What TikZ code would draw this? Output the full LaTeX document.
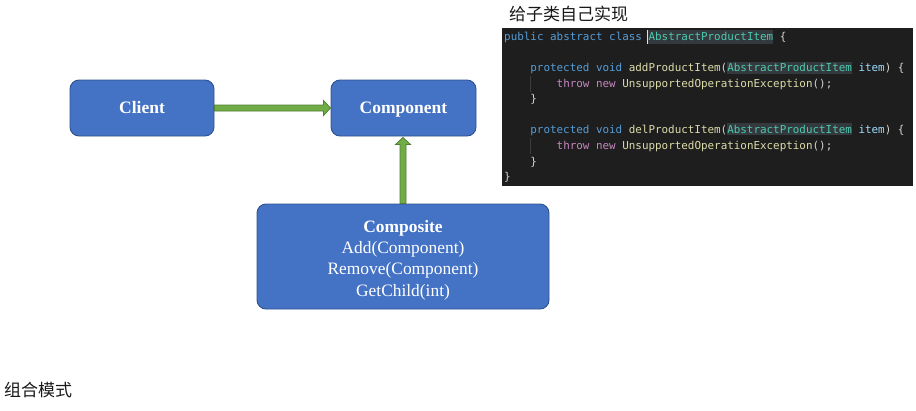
\documentclass[tikz,border=0pt]{standalone}
\usepackage{fontspec}
\setmainfont{Liberation Serif}
\newfontfamily\cjkfont{Noto Sans CJK SC}
\newfontfamily\codefont{DejaVu Sans Mono}
\usetikzlibrary{calc}
\definecolor{boxfill}{HTML}{4472C4}
\definecolor{boxline}{HTML}{2F528F}
\definecolor{arrfill}{HTML}{70AD47}
\definecolor{arrline}{HTML}{507E32}
\definecolor{codebg}{HTML}{1E1E1E}
\definecolor{codehl}{HTML}{33393C}
\definecolor{ckw}{HTML}{569CD6}
\definecolor{cty}{HTML}{4EC9B0}
\definecolor{cfn}{HTML}{DCDCAA}
\definecolor{cvar}{HTML}{9CDCFE}
\definecolor{cctl}{HTML}{C586C0}
\definecolor{cpunc}{HTML}{D4D4D4}
\definecolor{cguide}{HTML}{3C3C3C}
\tikzset{
  umlbox/.style={draw=boxline, line width=0.9pt, fill=boxfill, rounded corners=9pt,
    text=white, font=\fontsize{17.5}{21}\selectfont\bfseries, inner sep=0pt},
  simplebox/.style={umlbox, text height=14pt, text depth=3pt},
  blockarrow/.style={draw=arrline, line width=0.7pt, fill=arrfill, line join=miter},
  codeline/.style={anchor=base west, inner sep=0pt, text=cpunc,
    font=\codefont\fontsize{10.9}{13}\selectfont},
  cjklabel/.style={anchor=west, inner sep=0pt, text=black!90,
    font=\cjkfont\fontsize{17}{20}\selectfont}
}
\begin{document}
\begin{tikzpicture}[x=1pt,y=-1pt]
\useasboundingbox (0,0) rectangle (916,410);
% boxes
\node[simplebox, minimum width=144pt, minimum height=56pt] (client) at (142,108) {Client};
\node[simplebox, minimum width=145pt, minimum height=56pt] (component) at (403.5,108) {Component};
\node[umlbox, minimum width=292pt, minimum height=105pt,
  font=\fontsize{17.4}{21.3}\selectfont] (composite) at (403,256.5)
  {\raisebox{-3.5pt}[\height][\depth]{\begin{tabular}{@{}c@{}}\textbf{Composite}\\Add(Component)\\Remove(Component)\\GetChild(int)\end{tabular}}};
% arrows
\draw[blockarrow] ($(client.east)+(0,-3)$) -- ($(component.west)+(-7,-3)$)
  -- ($(component.west)+(-7,-7.5)$) -- (component.west)
  -- ($(component.west)+(-7,7.5)$) -- ($(component.west)+(-7,3)$)
  -- ($(client.east)+(0,3)$) -- cycle;
\coordinate (vtip) at (composite.north |- component.south);
\draw[blockarrow] ($(composite.north)+(-3,0)$) -- ($(vtip)+(-3,8)$)
  -- ($(vtip)+(-7.5,8)$) -- ($(vtip)+(0,1)$) -- ($(vtip)+(7.5,8)$) -- ($(vtip)+(3,8)$)
  -- ($(composite.north)+(3,0)$) -- cycle;
% title labels
\node[cjklabel] (title) at (509,14) {给子类自己实现};
\node[cjklabel] (pattern) at (4,390) {组合模式};
% code panel
\fill[codebg] (502,28) rectangle (913,186);
\fill[codehl] (648,29.5) rectangle (772.7,44);
\fill[codehl] (727.1,61.5) rectangle (851.8,73.5);
\fill[codehl] (727.1,123) rectangle (851.8,135);
\draw[cguide, line width=0.6pt] (530,76) -- (530,92);
\draw[cguide, line width=0.6pt] (530,138) -- (530,154);
\draw[cpunc!70, line width=0.7pt] (647,30) -- (647,44);
\node[codeline] (l1) at (504,40.3) {\textcolor{ckw}{public abstract class} \textcolor{cty}{AbstractProductItem} \{};
\node[codeline] (l3) at (530.2,71.5) {\textcolor{ckw}{protected void} \textcolor{cfn}{addProductItem}(\textcolor{cty}{AbstractProductItem} \textcolor{cvar}{item}) \{};
\node[codeline] (l4) at (556.5,87.1) {\textcolor{cctl}{throw new} \textcolor{cfn}{UnsupportedOperationException}();};
\node[codeline] (l5) at (530.2,102.7) {\}};
\node[codeline] (l7) at (530.2,133.9) {\textcolor{ckw}{protected void} \textcolor{cfn}{delProductItem}(\textcolor{cty}{AbstractProductItem} \textcolor{cvar}{item}) \{};
\node[codeline] (l8) at (556.5,149.5) {\textcolor{cctl}{throw new} \textcolor{cfn}{UnsupportedOperationException}();};
\node[codeline] (l9) at (530.2,165.1) {\}};
\node[codeline] (l10) at (504,180.7) {\}};
\end{tikzpicture}
\end{document}
